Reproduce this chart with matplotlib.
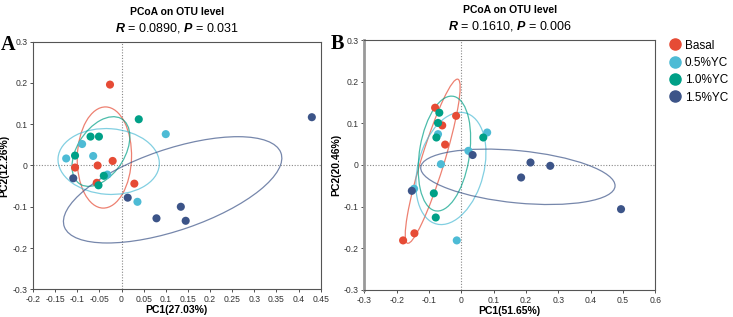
import numpy as np
import matplotlib
matplotlib.use("Agg")
import matplotlib.pyplot as plt
from matplotlib.patches import Ellipse
from matplotlib.lines import Line2D

plt.rcParams['font.family'] = ['Liberation Sans', 'DejaVu Sans']
plt.rcParams['mathtext.fontset'] = 'custom'
plt.rcParams['mathtext.rm'] = 'Liberation Sans:bold'
plt.rcParams['mathtext.bfit'] = 'Liberation Sans:italic:bold'

groups = ['Basal', '0.5%YC', '1.0%YC', '1.5%YC']
colors = ['#E64B35', '#4DBBD5', '#00A087', '#3C5488']

# panel A (PC1, PC2) per group
a_pc1 = {
    'Basal': [-0.026, -0.020, -0.105, -0.054, -0.056, 0.029],
    '0.5%YC': [0.100, -0.089, -0.125, -0.064, -0.032, 0.036],
    '1.0%YC': [0.039, -0.070, -0.051, -0.105, -0.040, -0.052],
    '1.5%YC': [0.430, -0.109, 0.014, 0.134, 0.145, 0.079],
}
a_pc2 = {
    'Basal': [0.196, 0.011, -0.005, 0.000, -0.042, -0.044],
    '0.5%YC': [0.076, 0.052, 0.017, 0.023, -0.022, -0.088],
    '1.0%YC': [0.112, 0.070, 0.070, 0.024, -0.025, -0.048],
    '1.5%YC': [0.117, -0.031, -0.078, -0.100, -0.134, -0.128],
}
# panel B
b_pc1 = {
    'Basal': [-0.081, -0.016, -0.059, -0.050, -0.145, -0.180],
    '0.5%YC': [-0.072, 0.022, -0.063, -0.146, -0.014, 0.080],
    '1.0%YC': [-0.068, -0.072, -0.077, -0.085, -0.079, 0.068],
    '1.5%YC': [0.035, -0.153, 0.214, 0.275, 0.185, 0.494],
}
b_pc2 = {
    'Basal': [0.1375, 0.118, 0.095, 0.049, -0.164, -0.181],
    '0.5%YC': [0.074, 0.034, 0.002, -0.057, -0.181, 0.078],
    '1.0%YC': [0.1255, 0.101, 0.066, -0.068, -0.126, 0.066],
    '1.5%YC': [0.024, -0.062, 0.006, -0.002, -0.030, -0.106],
}

panels = [
    dict(letter='A', pc1=a_pc1, pc2=a_pc2, stat='$\\mathbfit{R}$ = 0.0890, $\\mathbfit{P}$ = 0.031',
         xlab='PC1(27.03%)', ylab='PC2(12.26%)',
         xticks=np.arange(-0.2, 0.451, 0.05), xlim=(-0.2, 0.45),
         rect=[0.045, 0.0874, 0.3925, 0.7811], lx=-0.088),
    dict(letter='B', pc1=b_pc1, pc2=b_pc2, stat='$\\mathbfit{R}$ = 0.1610, $\\mathbfit{P}$ = 0.006',
         xlab='PC1(51.65%)', ylab='PC2(20.46%)',
         xticks=np.arange(-0.3, 0.61, 0.1), xlim=(-0.3, 0.6),
         rect=[0.497, 0.0852, 0.397, 0.7886], lx=-0.093),
]
yticks = np.arange(-0.3, 0.31, 0.1)
n_std = 1.37


def fmt(v):
    v = round(v, 2)
    return '0' if v == 0 else f'{v:g}'


fig = plt.figure(figsize=(7.33, 3.17), dpi=100)

for p in panels:
    ax = fig.add_axes(p['rect'])
    ax.axvline(0, color='#888888', ls=(0, (1, 1.5)), lw=0.8, zorder=1)
    ax.axhline(0, color='#888888', ls=(0, (1, 1.5)), lw=0.8, zorder=1)
    for g, c in zip(groups, colors):
        x = np.array(p['pc1'][g])
        y = np.array(p['pc2'][g])
        cov = np.cov(x, y)
        vals, vecs = np.linalg.eigh(cov)
        ang = np.degrees(np.arctan2(vecs[1, 1], vecs[0, 1]))
        w = 2 * n_std * np.sqrt(vals[1])
        h = 2 * n_std * np.sqrt(vals[0])
        ax.add_patch(Ellipse((x.mean(), y.mean()), w, h, angle=ang,
                             fill=False, ec=c, lw=0.9, alpha=0.7, zorder=2))
        ax.scatter(x, y, s=34, color=c, edgecolors='none', zorder=3)
    ax.set_xlim(p['xlim'])
    ax.set_ylim(-0.3, 0.3)
    ax.set_xticks(p['xticks'])
    ax.set_xticklabels([fmt(v) for v in p['xticks']])
    ax.set_yticks(yticks)
    ax.set_yticklabels([fmt(v) for v in yticks])
    ax.tick_params(labelsize=6.2, colors='#333333', length=2.5, width=0.6, pad=1.5)
    for s in ax.spines.values():
        s.set_color('#555555')
        s.set_linewidth(0.8)
    if p['letter'] == 'B':
        ax.spines['left'].set_color('#999999')
        ax.spines['left'].set_linewidth(2.0)
    ax.set_xlabel(p['xlab'], fontsize=7.5, fontweight='bold', labelpad=1)
    ax.set_ylabel(p['ylab'], fontsize=7.5, fontweight='bold', labelpad=2)
    ax.text(0.5, 1.0 + 30 / 250, 'PCoA on OTU level', transform=ax.transAxes,
            ha='center', va='center', fontsize=7.5, fontweight='bold')
    ax.text(0.5, 1.0 + 14 / 250, p['stat'], transform=ax.transAxes,
            ha='center', va='center', fontsize=9)
    ax.text(p['lx'], 0.985, p['letter'], transform=ax.transAxes, ha='center', va='center',
            fontsize=14.5, fontweight='bold', family='Liberation Serif')

handles = [Line2D([], [], marker='o', ls='none', color=c, markersize=8) for c in colors]
fig.legend(handles, groups, loc='upper left', bbox_to_anchor=(0.905, 0.89),
           frameon=False, fontsize=8.5, handletextpad=0.2, labelspacing=0.45,
           borderaxespad=0, handlelength=1.2)

fig.savefig('out.png', dpi=100)
